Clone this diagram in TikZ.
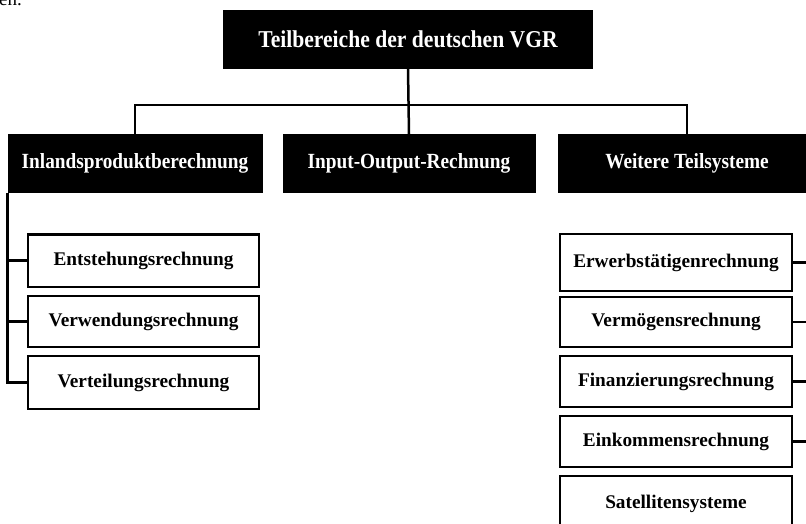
\documentclass[tikz,border=0pt]{standalone}
\usepackage{graphicx}
\usepackage{fontspec}
\setmainfont{Liberation Serif}
\newcommand\vstretch[1]{\scalebox{1}[1.12]{#1}}
\tikzset{
  blackbox/.style={fill=black, draw=black, line width=0.6pt, text=white,
    font=\bfseries\fontsize{19.3}{22}\selectfont, inner sep=0pt, minimum height=58pt},
  whitebox/.style={draw=black, line width=2.6pt, fill=white,
    font=\bfseries\fontsize{19.3}{22}\selectfont, inner sep=0pt},
  conn/.style={line width=2.5pt, draw=black}
}
\begin{document}
\begin{tikzpicture}[x=1pt,y=-1pt]
\useasboundingbox (0,0) rectangle (806,524);
% fragment of text from above
\node[anchor=base west, inner sep=0pt, font=\fontsize{19}{22}\selectfont] (frag) at (-1,6) {en.};
% top
\node[blackbox, minimum width=369pt, minimum height=58pt,
      font=\bfseries\fontsize{21.6}{24}\selectfont] (top) at (408,39.5) {\vstretch{Teilbereiche der deutschen VGR}};
% second level
\node[blackbox, minimum width=254pt] (inl) at (135,163.5) {\vstretch{Inlandsproduktberechnung}};
\node[blackbox, minimum width=252pt] (io) at (409,163.5) {\vstretch{Input-Output-Rechnung}};
\node[blackbox, minimum width=258pt] (wt) at (687,163.5) {\vstretch{Weitere Teilsysteme}};
% left column
\node[whitebox, minimum width=231pt, minimum height=52.6pt] (ent) at (143.5,260.5) {Entstehungsrechnung};
\node[whitebox, minimum width=231pt, minimum height=51pt] (verw) at (143.5,321.5) {Verwendungsrechnung};
\node[whitebox, minimum width=231pt, minimum height=53pt] (vert) at (143.5,382.5) {Verteilungsrechnung};
% right column
\node[whitebox, minimum width=232pt, minimum height=57pt] (erw) at (676,262.5) {Erwerbst\"atigenrechnung};
\node[whitebox, minimum width=232pt, minimum height=50pt] (verm) at (676,322) {Verm\"ogensrechnung};
\node[whitebox, minimum width=232pt, minimum height=51pt] (fin) at (676,381.5) {Finanzierungsrechnung};
\node[whitebox, minimum width=232pt, minimum height=51pt] (eink) at (676,441.5) {Einkommensrechnung};
\node[whitebox, minimum width=232pt, minimum height=55pt] (sat) at (676,503.5) {Satellitensysteme};
% connectors
\coordinate (bar) at (409,105);
\coordinate (rs) at (810,0);
\draw[conn] (top.south) -- (io.north);
\draw[conn] (inl.north) -- (inl.north |- bar) -- (wt.north |- bar) -- (wt.north);
\draw[conn] (inl.south west) -- (inl.south west |- vert.west) -- (vert.west);
\draw[conn] (inl.south west |- ent.west) -- (ent.west);
\draw[conn] (inl.south west |- verw.west) -- (verw.west);
\draw[conn] (erw.east) -- (erw.east -| rs);
\draw[conn] (verm.east) -- (verm.east -| rs);
\draw[conn] (fin.east) -- (fin.east -| rs);
\draw[conn] (eink.east) -- (eink.east -| rs);
\end{tikzpicture}
\end{document}
